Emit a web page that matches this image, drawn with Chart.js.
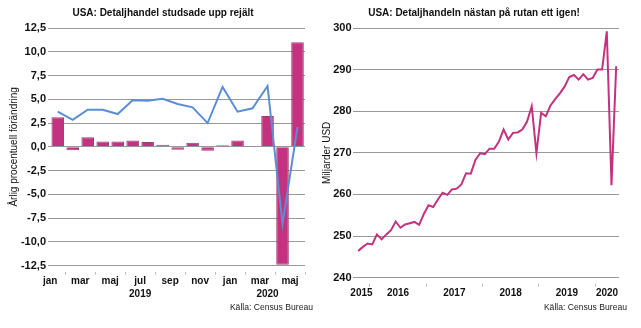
<!DOCTYPE html>
<html>
<head>
<meta charset="utf-8">
<script src="https://cdn.jsdelivr.net/npm/chart.js@4"></script>
<style>
    body { margin: 0; background: #ffffff; }
    #wrap { position: relative; width: 641px; height: 328px; }
    #leftChart { position: absolute; left: 0; top: 0; }
    #rightChart { position: absolute; left: 320px; top: 0; }
</style>
</head>
<body>
<div id="wrap">
    <canvas id="leftChart" width="320" height="328"></canvas>
    <canvas id="rightChart" width="321" height="328"></canvas>
</div>
<script>
// Vänster: jan 2019 - maj 2020
const months = ['jan', 'feb', 'mar', 'apr', 'maj', 'jun', 'jul', 'aug', 'sep', 'okt', 'nov', 'dec', 'jan', 'feb', 'mar', 'apr', 'maj'];
const monthYears = [2019, 2019, 2019, 2019, 2019, 2019, 2019, 2019, 2019, 2019, 2019, 2019, 2020, 2020, 2020, 2020, 2020];
const barValues = [3.1, -0.35, 1.0, 0.57, 0.57, 0.67, 0.5, 0.21, -0.3, 0.42, -0.42, 0.16, 0.67, 0.0, 3.25, -12.4, 11.0];
const lineValues = [3.7, 2.83, 3.9, 3.9, 3.45, 4.9, 4.85, 5.05, 4.5, 4.15, 2.5, 6.3, 3.7, 4.05, 6.4, -8.1, 2.1];
const leftTicks = [12.5, 10, 7.5, 5, 2.5, 0, -2.5, -5, -7.5, -10, -12.5];

// Höger: okt 2015 - maj 2020, miljarder USD
const salesYears = [2015, 2016, 2017, 2018, 2019, 2020];
const salesFirstMonth = 9; // oktober 2015, månader räknade från jan 2015
const salesValues = [
    246.4, 247.4, 248.2,
    248.0, 250.4, 249.2, 250.4, 251.4, 253.5, 252.0, 252.8, 253.1, 253.4, 252.7, 255.3,
    257.4, 257.0, 258.8, 260.4, 259.9, 261.2, 261.4, 262.4, 265.1, 265.0, 268.3, 269.9,
    269.7, 271.0, 271.0, 272.7, 275.6, 273.2, 274.8, 274.9, 275.6, 277.5, 281.2, 269.9,
    279.6, 278.8, 281.4, 282.9, 284.3, 285.9, 288.2, 288.7, 287.6, 288.9, 287.6, 288.0,
    290.0, 290.0, 299.2, 262.2, 290.8
];
const rightTicks = [240, 250, 260, 270, 280, 290, 300];

const MAGENTA = '#c3317f';
const BLUE = '#5b8dd6';
const GRID = '#999999';
const TEXT = '#111111';

Chart.defaults.font.family = '"Liberation Sans", Arial, sans-serif';
Chart.defaults.color = TEXT;

const sourceText = 'Källa: Census Bureau';

function initializeLeftChart() {
    const ctx = document.getElementById('leftChart').getContext('2d');
    const n = months.length;

    // års-etiketter centrerade under respektive år
    const yearLabels = [];
    monthYears.forEach((y, i) => {
        const last = yearLabels[yearLabels.length - 1];
        if (!last || last.label !== String(y)) {
            yearLabels.push({ start: i, end: i + 1, label: String(y) });
        } else {
            last.end = i + 1;
        }
    });

    return new Chart(ctx, {
        type: 'bar',
        data: {
            datasets: [{
                type: 'line',
                data: lineValues.map((v, i) => ({ x: i + 0.5, y: v })),
                borderColor: BLUE,
                borderWidth: 2,
                pointRadius: 0,
                tension: 0,
                xAxisID: 'x',
                yAxisID: 'y',
                order: 0
            }, {
                type: 'bar',
                data: barValues.map((v, i) => ({ x: i + 0.5, y: v })),
                backgroundColor: MAGENTA,
                borderColor: '#9c3d72',
                borderWidth: 1,
                barPercentage: 0.84,
                categoryPercentage: 1,
                xAxisID: 'x',
                yAxisID: 'y',
                order: 1
            }]
        },
        options: {
            responsive: false,
            animation: false,
            layout: { padding: { top: 7, bottom: 15, left: 13, right: 7 } },
            plugins: {
                legend: { display: false },
                tooltip: { enabled: false },
                title: {
                    display: true,
                    text: 'USA: Detaljhandel studsade upp rejält',
                    color: TEXT,
                    font: { size: 10, weight: 'bold' },
                    padding: { top: 0, bottom: 9 }
                },
                subtitle: {
                    display: true,
                    position: 'bottom',
                    align: 'end',
                    text: sourceText,
                    color: '#222222',
                    font: { size: 8.6 },
                    padding: { top: 2, bottom: 0 }
                }
            },
            scales: {
                x: {
                    type: 'linear',
                    min: -0.15,
                    max: n,
                    offset: false,
                    afterBuildTicks: function(scale) {
                        scale.ticks = months.map((m, i) => ({ value: i })).filter(t => t.value % 2 === 0);
                    },
                    ticks: {
                        autoSkip: false,
                        maxRotation: 0,
                        padding: 1,
                        font: { size: 10, weight: 'bold' },
                        callback: function(value) { return months[value]; }
                    },
                    grid: {
                        drawOnChartArea: false,
                        drawTicks: true,
                        tickLength: 9,
                        tickColor: '#bbbbbb',
                        tickBorderDash: [0, 6, 3, 10]
                    },
                    border: { display: false }
                },
                x2: {
                    type: 'linear',
                    position: 'bottom',
                    weight: 1,
                    min: -0.15,
                    max: n,
                    offset: false,
                    afterBuildTicks: function(scale) {
                        scale.ticks = yearLabels.map(y => ({ value: (y.start + y.end) / 2 }));
                    },
                    ticks: {
                        autoSkip: false,
                        maxRotation: 0,
                        padding: 0,
                        font: { size: 10, weight: 'bold' },
                        callback: function(value, index) { return yearLabels[index].label; }
                    },
                    grid: { display: false, drawTicks: false },
                    border: { display: false }
                },
                y: {
                    min: -12.5,
                    max: 12.5,
                    afterBuildTicks: function(scale) {
                        scale.ticks = leftTicks.map(v => ({ value: v }));
                    },
                    afterFit: function(scale) { scale.width = 35; },
                    ticks: {
                        padding: 2,
                        font: { size: 11, weight: 'bold' },
                        callback: function(value) { return value.toFixed(1).replace('.', ','); }
                    },
                    grid: { color: GRID, drawTicks: false },
                    border: { display: false },
                    title: {
                        display: true,
                        text: 'Årlig procentuell förändring',
                        font: { size: 10 },
                        padding: { top: -5, bottom: 0 }
                    }
                },
                pad: {
                    type: 'linear',
                    position: 'right',
                    afterFit: function(scale) { scale.width = 8; },
                    ticks: { display: false },
                    grid: { display: false, drawTicks: false },
                    border: { display: false }
                }
            }
        }
    });
}

function initializeRightChart() {
    const ctx = document.getElementById('rightChart').getContext('2d');
    const xMin = 8.4;
    const xMax = 65.1;

    // gränser mellan åren (tickmarkeringar) och etiketter mitt i varje år
    const boundaries = salesYears.slice(1).map((y, i) => ({ value: (i + 1) * 12, label: '' }));
    const labels = salesYears.map((y, i) => {
        const start = Math.max(i * 12, xMin);
        const end = Math.min((i + 1) * 12, xMax);
        return { value: (start + end) / 2, label: String(y) };
    });
    const xTicks = boundaries.concat(labels).sort((a, b) => a.value - b.value);

    return new Chart(ctx, {
        type: 'line',
        data: {
            datasets: [{
                data: salesValues.map((v, i) => ({ x: salesFirstMonth + i + 0.5, y: v })),
                borderColor: MAGENTA,
                borderWidth: 2,
                pointRadius: 0,
                tension: 0,
                xAxisID: 'x',
                yAxisID: 'y'
            }]
        },
        options: {
            responsive: false,
            animation: false,
            layout: { padding: { top: 7, bottom: 15, left: 1, right: 14 } },
            plugins: {
                legend: { display: false },
                tooltip: { enabled: false },
                title: {
                    display: true,
                    text: 'USA: Detaljhandeln nästan på rutan ett igen!',
                    color: TEXT,
                    font: { size: 10, weight: 'bold' },
                    padding: { top: 0, bottom: 9 }
                },
                subtitle: {
                    display: true,
                    position: 'bottom',
                    align: 'end',
                    text: sourceText,
                    color: '#222222',
                    font: { size: 8.6 },
                    padding: { top: 2, bottom: 0 }
                }
            },
            scales: {
                x: {
                    type: 'linear',
                    min: xMin,
                    max: xMax,
                    afterBuildTicks: function(scale) {
                        scale.ticks = xTicks.map(t => ({ value: t.value }));
                    },
                    ticks: {
                        autoSkip: false,
                        maxRotation: 0,
                        padding: 1,
                        font: { size: 10, weight: 'bold' },
                        callback: function(value, index) { return xTicks[index].label; }
                    },
                    grid: {
                        drawOnChartArea: false,
                        drawTicks: true,
                        tickLength: 9,
                        tickColor: function(c) {
                            return xTicks[c.index] && xTicks[c.index].label === '' ? '#bbbbbb' : 'rgba(0,0,0,0)';
                        },
                        tickBorderDash: [0, 6, 3, 10]
                    },
                    border: { display: false }
                },
                y: {
                    min: 240,
                    max: 300,
                    afterBuildTicks: function(scale) {
                        scale.ticks = rightTicks.map(v => ({ value: v }));
                    },
                    afterFit: function(scale) { scale.width = 32; },
                    ticks: {
                        padding: 1.5,
                        font: { size: 11, weight: 'bold' }
                    },
                    grid: { color: GRID, drawTicks: false },
                    border: { display: false },
                    title: {
                        display: true,
                        text: 'Miljarder USD',
                        font: { size: 10 },
                        padding: { top: 0, bottom: 0 }
                    }
                },
                pad: {
                    type: 'linear',
                    position: 'right',
                    afterFit: function(scale) { scale.width = 8; },
                    ticks: { display: false },
                    grid: { display: false, drawTicks: false },
                    border: { display: false }
                }
            }
        }
    });
}

document.addEventListener('DOMContentLoaded', function() {
    window.leftChart = initializeLeftChart();
    window.rightChart = initializeRightChart();
});
</script>
</body>
</html>
